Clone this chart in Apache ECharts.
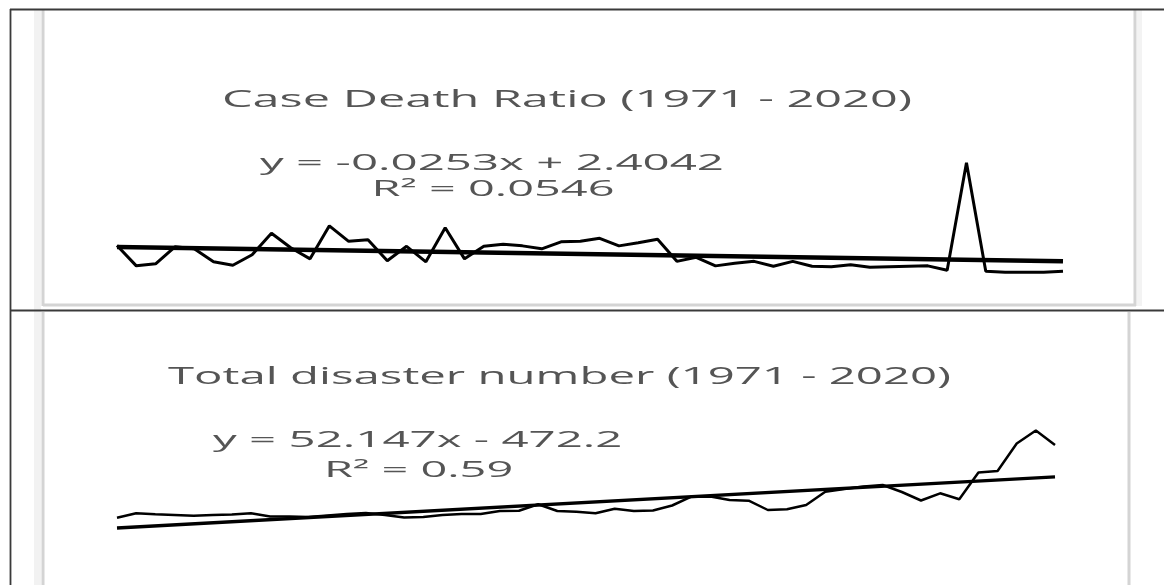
<!DOCTYPE html>
<html><head><meta charset="utf-8">
<script src="https://cdn.jsdelivr.net/npm/echarts@6/dist/echarts.min.js"></script>
<style>html,body{margin:0;padding:0;background:#fff}#c{width:1164px;height:585px}</style>
</head><body><div id="c"></div>
<script>
// ---------- data ----------
const years = [1971,1972,1973,1974,1975,1976,1977,1978,1979,1980,
  1981,1982,1983,1984,1985,1986,1987,1988,1989,1990,
  1991,1992,1993,1994,1995,1996,1997,1998,1999,2000,
  2001,2002,2003,2004,2005,2006,2007,2008,2009,2010,
  2011,2012,2013,2014,2015,2016,2017,2018,2019,2020];

const caseDeathRatio = [2.52,0.72,0.90,2.41,2.23,1.08,0.77,1.70,3.60,2.32,
  1.34,4.26,2.89,3.03,1.17,2.45,1.08,4.09,1.34,2.45,
  2.63,2.49,2.23,2.85,2.89,3.16,2.49,2.76,3.07,1.12,
  1.48,0.72,0.95,1.12,0.68,1.12,0.68,0.64,0.81,0.59,
  0.64,0.68,0.72,0.33,9.84,0.24,0.15,0.15,0.15,0.24];

const totalDisasters = [95,315,265,230,195,230,255,315,155,155,
  130,205,280,330,230,105,130,230,280,280,
  430,445,765,430,395,315,545,430,455,705,
  1145,1155,980,945,480,515,730,1395,1530,1655,
  1730,1380,955,1315,1015,2355,2430,3805,4455,3730];

// trendline coefficients [slope, intercept] (x = 1..50)
const cdrTrendCoef = [-0.0253, 2.4042];
const disTrendCoef = [52.147, -472.2];

const titles = ['Case Death Ratio (1971 - 2020)', 'Total disaster number (1971 - 2020)'];
const equations = ['y = -0.0253x + 2.4042', 'y = 52.147x - 472.2'];
const rSquared = ['R\u00B2 = 0.0546', 'R\u00B2 = 0.59'];

// ---------- helpers ----------
const FONT = '"Open Sans"';
const mctx = document.createElement('canvas').getContext('2d');
function stretchedText(str, cx, cy, size, targetW) {
  mctx.font = size + 'px ' + FONT;
  const w = mctx.measureText(str).width;
  return {
    type: 'text', x: cx, y: cy, scaleX: targetW / w, z: 100,
    style: { text: str, font: size + 'px ' + FONT, fill: '#555555', align: 'center', verticalAlign: 'middle' }
  };
}
function trendData(coef) {
  const n = years.length;
  return [[String(years[0]), coef[0] * 1 + coef[1]], [String(years[n - 1]), coef[0] * n + coef[1]]];
}
function vline(x, y1, y2, color, w) {
  return { type: 'line', shape: { x1: x, y1: y1, x2: x, y2: y2 }, style: { stroke: color, lineWidth: w }, z: 50 };
}
function hline(y, x1, x2, color, w) {
  return { type: 'line', shape: { x1: x1, y1: y, x2: x2, y2: y }, style: { stroke: color, lineWidth: w }, z: 50 };
}

const chart = echarts.init(document.getElementById('c'), null, { renderer: 'canvas' });
const cats = years.map(String);
const hiddenX = (gi) => ({ type: 'category', gridIndex: gi, data: cats, boundaryGap: false, show: false });

chart.setOption({
  backgroundColor: '#ffffff',
  animation: false,
  grid: [
    { left: 117, width: 946, top: 161, height: 113 },
    { left: 117, width: 938, top: 429.6, height: 100 }
  ],
  xAxis: [hiddenX(0), hiddenX(1)],
  yAxis: [
    { type: 'value', gridIndex: 0, min: 0, max: 10, show: false, splitLine: { show: false } },
    { type: 'value', gridIndex: 1, min: -500, max: 4500, show: false, splitLine: { show: false } }
  ],
  series: [
    { type: 'line', xAxisIndex: 0, yAxisIndex: 0, data: caseDeathRatio, symbol: 'none',
      lineStyle: { color: '#000', width: 3 }, clip: false, z: 2 },
    { type: 'line', xAxisIndex: 0, yAxisIndex: 0, data: trendData(cdrTrendCoef), symbol: 'none',
      lineStyle: { color: '#000', width: 4.5 }, clip: false, z: 3 },
    { type: 'line', xAxisIndex: 1, yAxisIndex: 1, data: totalDisasters, symbol: 'none',
      lineStyle: { color: '#000', width: 2.5 }, clip: false, z: 2 },
    { type: 'line', xAxisIndex: 1, yAxisIndex: 1, data: trendData(disTrendCoef), symbol: 'none',
      lineStyle: { color: '#000', width: 3.4 }, clip: false, z: 3 }
  ],
  graphic: [
    // light gray panel frames
    { type: 'rect', shape: { x: 34, y: 10, width: 7, height: 575 }, style: { fill: '#f2f2f2' }, z: 40 },
    vline(43, 10, 306, '#d4d4d4', 3),
    vline(1135, 10, 306, '#d4d4d4', 3),
    { type: 'rect', shape: { x: 1137, y: 10, width: 5, height: 296 }, style: { fill: '#f3f3f3' }, z: 40 },
    hline(305, 43, 1136, '#d4d4d4', 3),
    vline(43, 312, 585, '#d4d4d4', 3),
    vline(1129, 312, 585, '#d4d4d4', 3),
    // black outer borders
    hline(9.5, 10, 1164, '#3a3a3a', 1.8),
    vline(10.5, 9, 585, '#3a3a3a', 1.8),
    hline(310.5, 10, 1164, '#3a3a3a', 1.8),
    // texts
    stretchedText(titles[0], 567, 100, 24, 690),
    stretchedText(equations[0], 492, 164.5, 21, 464),
    stretchedText(rSquared[0], 493, 190, 21, 243),
    stretchedText(titles[1], 559.5, 377, 24, 783),
    stretchedText(equations[1], 417.7, 441, 21, 409.5),
    stretchedText(rSquared[1], 418.6, 471, 21, 189.4)
  ]
});
</script>
</body></html>
